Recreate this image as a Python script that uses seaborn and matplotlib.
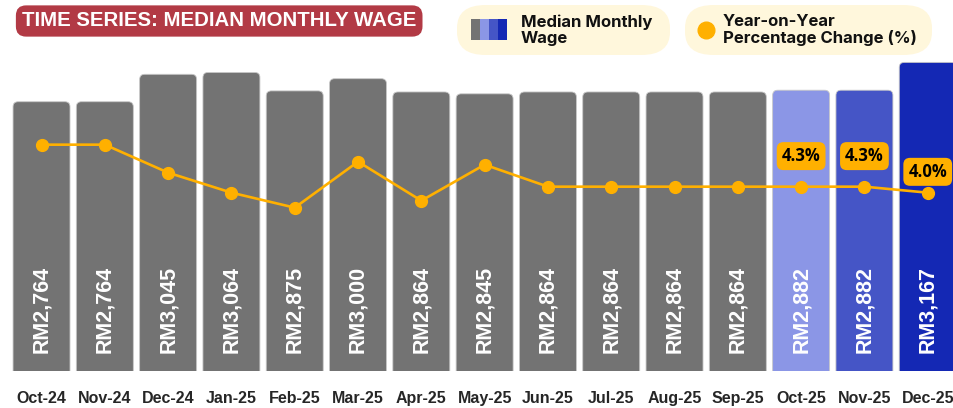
import matplotlib
matplotlib.use("Agg")
import matplotlib.pyplot as plt
import seaborn as sns
import pandas as pd
from matplotlib.patches import FancyBboxPatch, Rectangle

# data
months = ["Oct-24", "Nov-24", "Dec-24", "Jan-25", "Feb-25", "Mar-25", "Apr-25", "May-25",
          "Jun-25", "Jul-25", "Aug-25", "Sep-25", "Oct-25", "Nov-25", "Dec-25"]
wage = [2764, 2764, 3045, 3064, 2875, 3000, 2864, 2845,
        2864, 2864, 2864, 2864, 2882, 2882, 3167]
yoy = [6.4, 6.4, 5.0, 4.0, 3.25, 5.55, 3.6, 5.4,
       4.3, 4.3, 4.3, 4.3, 4.3, 4.3, 4.0]
yoy_labels = {"Oct-25": "4.3%", "Nov-25": "4.3%", "Dec-25": "4.0%"}

GREY = "#737373"
LIGHT = "#8b96e6"
MID = "#4555c6"
DARK = "#1428b4"
ORANGE = "#ffb000"
CREAM = "#fff7dc"
RED = "#b23a45"

bar_colors = [GREY] * 12 + [LIGHT, MID, DARK]
df = pd.DataFrame({"month": months, "wage": wage, "yoy": yoy})

sns.set_style("white")
plt.rcParams["font.family"] = ["Liberation Sans", "DejaVu Sans"]

fig = plt.figure(figsize=(9.54, 4.08), dpi=100)
ax = fig.add_axes([0, 0.0895, 1, 0.8133])

sns.barplot(data=df, x="month", y="wage", hue="month", palette=bar_colors,
            width=0.9, legend=False, ax=ax, saturation=1)

# swap plain bars for bars with rounded tops
for p in list(ax.patches):
    x0, w, h = p.get_x(), p.get_width(), p.get_height()
    fc = p.get_facecolor()
    p.set_visible(False)
    rb = FancyBboxPatch((x0, -200), w, h + 200,
                        boxstyle="round,pad=0,rounding_size=0.08",
                        mutation_aspect=650, facecolor=fc,
                        edgecolor="#c8c8c8", linewidth=0.6, zorder=2)
    ax.add_patch(rb)

for i, v in enumerate(wage):
    ax.text(i, 190, f"RM{v:,}", rotation=90, ha="center", va="bottom",
            color="white", fontsize=15.5, fontweight="bold", zorder=4)

ax.set_xlim(-0.656, 14.415)
ax.set_ylim(0, 3400)
ax.set_xlabel("")
ax.set_ylabel("")
ax.set_yticks([])
ax.tick_params(axis="x", length=0, pad=14, labelsize=11.5)
for t in ax.get_xticklabels():
    t.set_fontweight("bold")
for s in ax.spines.values():
    s.set_visible(False)

# YoY line on a twin axis
ax2 = ax.twinx()
ax2.plot(range(len(months)), yoy, color=ORANGE, lw=1.9, marker="o",
         markersize=8.5, zorder=5)
ax2.set_ylim(-4.94, 11.65)
ax2.set_yticks([])
for s in ax2.spines.values():
    s.set_visible(False)

offsets = {"Oct-25": 22, "Nov-25": 22, "Dec-25": 15}
for m, lab in yoy_labels.items():
    i = months.index(m)
    ax2.annotate(lab, (i, yoy[i]), xytext=(0, offsets[m]), textcoords="offset points",
                 ha="center", va="center", fontsize=12, fontweight="bold",
                 family=["Open Sans", "DejaVu Sans"], color="black",
                 bbox=dict(boxstyle="round,pad=0.3,rounding_size=0.4",
                           fc=ORANGE, ec="none"), zorder=6)

# title badge
fig.text(22 / 954, 1 - 21 / 408, "TIME SERIES: MEDIAN MONTHLY WAGE", ha="left", va="center",
         color="white", fontsize=14.7, fontweight="bold",
         bbox=dict(boxstyle="round,pad=0.3,rounding_size=0.5", fc=RED, ec="none"))

# legend pills
fig.patches.append(FancyBboxPatch((457 / 954, 1 - 55 / 408), 213 / 954, 50 / 408,
                                  boxstyle="round,pad=0,rounding_size=0.03",
                                  mutation_aspect=954 / 408 * 0.8,
                                  transform=fig.transFigure, fc=CREAM, ec="none"))
fig.patches.append(FancyBboxPatch((685 / 954, 1 - 55 / 408), 247 / 954, 50 / 408,
                                  boxstyle="round,pad=0,rounding_size=0.03",
                                  mutation_aspect=954 / 408 * 0.8,
                                  transform=fig.transFigure, fc=CREAM, ec="none"))
for k, c in enumerate([GREY, LIGHT, MID, DARK]):
    fig.patches.append(Rectangle(((471 + 9 * k) / 954, 1 - 40 / 408), 9 / 954, 21 / 408,
                                 transform=fig.transFigure, fc=c, ec="none"))
fig.text(521 / 954, 1 - 30 / 408, "Median Monthly\nWage", ha="left", va="center",
         fontsize=12, fontweight="bold", linespacing=1.05,
         family=["Inter", "DejaVu Sans"], color="#111111")
fig.add_artist(plt.Line2D([706 / 954], [1 - 30 / 408], marker="o", markersize=12,
                          color=ORANGE, transform=fig.transFigure))
fig.text(723 / 954, 1 - 30 / 408, "Year-on-Year\nPercentage Change (%)", ha="left", va="center",
         fontsize=12, fontweight="bold", linespacing=1.05,
         family=["Inter", "DejaVu Sans"], color="#111111")

fig.savefig("out.png", dpi=100)
